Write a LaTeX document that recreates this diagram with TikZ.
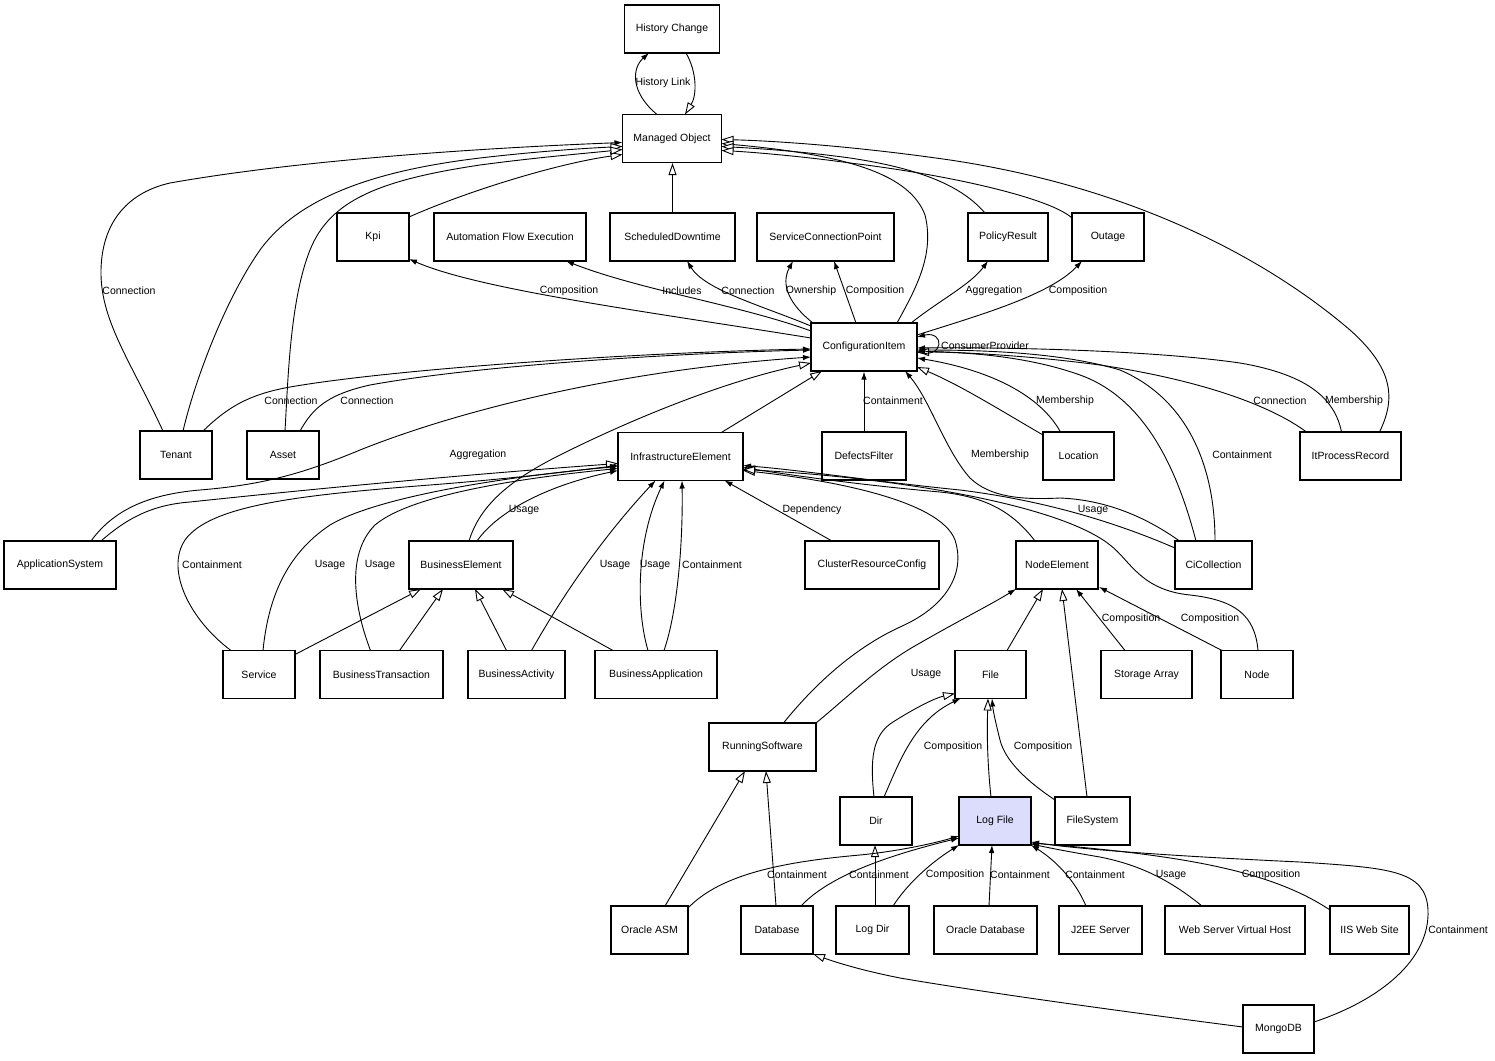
\documentclass[tikz,border=0pt]{standalone}
\usepackage{fontspec}
\setmainfont{Liberation Sans}
\usetikzlibrary{arrows.meta,calc}
\definecolor{lfill}{RGB}{220,220,252}
\begin{document}
\begin{tikzpicture}[x=1pt,y=-1pt,
  box/.style={draw, line width=1.2pt, minimum height=48pt, inner sep=0pt, font=\fontsize{10.5}{12}\selectfont},
  lbl/.style={inner sep=0pt, font=\fontsize{10.5}{12}\selectfont},
  ed/.style={draw, line width=0.9pt},
  fa/.style={ed, -{Latex[length=8pt,width=5.5pt]}},
  ga/.style={ed, -{Triangle[length=12pt,width=8pt,fill=white,line width=0.9pt]}}]
\fill[white] (0,0) rectangle (1495,1060);
\useasboundingbox (0,0) rectangle (1495,1060);
% nodes
\node[box, minimum width=95pt] (hc) at (672,29) {History Change};
\node[box, minimum width=99pt] (mo) at (672,138.5) {Managed Object};
\node[box, minimum width=72pt] (kpi) at (373,237) {Kpi};
\node[box, minimum width=152pt] (afe) at (510,237) {Automation Flow Execution};
\node[box, minimum width=125pt] (sd) at (672.5,237) {ScheduledDowntime};
\node[box, minimum width=137pt] (scp) at (825.5,237) {ServiceConnectionPoint};
\node[box, minimum width=80pt] (pr) at (1008,237) {PolicyResult};
\node[box, minimum width=72pt] (out) at (1108,237) {Outage};
\node[box, minimum width=106pt] (ci) at (864,347) {ConfigurationItem};
\node[box, minimum width=72pt] (tenant) at (176,455) {Tenant};
\node[box, minimum width=72pt] (asset) at (283,455) {Asset};
\node[box, minimum width=125pt] (ie) at (680.5,456.5) {InfrastructureElement};
\node[box, minimum width=84pt] (df) at (864,456) {DefectsFilter};
\node[box, minimum width=71pt] (loc) at (1078.5,456) {Location};
\node[box, minimum width=101pt] (itpr) at (1350.5,456) {ItProcessRecord};
\node[box, minimum width=112pt] (as) at (60,565) {ApplicationSystem};
\node[box, minimum width=104pt] (be) at (461,565) {BusinessElement};
\node[box, minimum width=134pt] (crc) at (872,565) {ClusterResourceConfig};
\node[box, minimum width=82pt] (ne) at (1057,565) {NodeElement};
\node[box, minimum width=77pt] (cic) at (1213.5,565) {CiCollection};
\node[box, minimum width=72pt] (svc) at (259,674.5) {Service};
\node[box, minimum width=123pt] (bt) at (381.5,674.5) {BusinessTransaction};
\node[box, minimum width=97pt] (ba) at (516.5,674.5) {BusinessActivity};
\node[box, minimum width=122pt] (bapp) at (656,674.5) {BusinessApplication};
\node[box, minimum width=71pt] (file) at (990.5,674.5) {File};
\node[box, minimum width=91pt] (sa) at (1146.5,674.5) {Storage Array};
\node[box, minimum width=72pt] (node) at (1257,674.5) {Node};
\node[box, minimum width=107pt] (rs) at (762.5,747) {RunningSoftware};
\node[box, minimum width=72pt] (dir) at (876,821) {Dir};
\node[box, minimum width=72pt, fill=lfill] (lf) at (995,821) {Log File};
\node[box, minimum width=75pt] (fs) at (1092.5,821) {FileSystem};
\node[box, minimum width=77pt] (asm) at (649.5,930) {Oracle ASM};
\node[box, minimum width=72pt] (db) at (777,930) {Database};
\node[box, minimum width=73pt] (ld) at (872.5,930) {Log Dir};
\node[box, minimum width=103pt] (odb) at (985.5,930) {Oracle Database};
\node[box, minimum width=83pt] (j2ee) at (1100.5,930) {J2EE Server};
\node[box, minimum width=140pt] (wsvh) at (1235,930) {Web Server Virtual Host};
\node[box, minimum width=79pt] (iis) at (1369.5,930) {IIS Web Site};
\node[box, minimum width=71pt] (mongo) at (1278.5,1029) {MongoDB};
% edges: top
\path[fa] ($(mo)+(-15,-24)$) .. controls (630,92) and (632,68) .. ($(hc)+(-23,24)$);
\path[ga] ($(hc)+(14,24)$) .. controls (697,72) and (697,95) .. ($(mo)+(13,-24)$);
\path[ga] (sd.north) -- (sd.north |- mo.south);
\path[ga] ($(kpi)+(36,-20)$) .. controls (470,190) and (560,163) .. ($(mo)+(-49.5,16)$);
\path[fa] ($(tenant)+(-13,-24)$) .. controls (130,360) and (100,320) .. (101,270) .. controls (102,220) and (130,192) .. (170,183) .. controls (300,160) and (480,148) .. ($(mo)+(-49.5,4)$);
\path[ga] ($(tenant)+(7,-24)$) .. controls (195,380) and (225,300) .. (260,250) .. controls (300,195) and (380,170) .. (480,158) .. controls (540,151) and (590,148) .. ($(mo)+(-49.5,8)$);
\path[ga] ($(asset)+(2,-24)$) .. controls (288,380) and (290,300) .. (310,250) .. controls (330,200) and (380,180) .. (480,165) .. controls (540,157) and (590,153) .. ($(mo)+(-49.5,11)$);
\path[fa] ($(tenant)+(27,-24)$) .. controls (225,410) and (245,395) .. (290,387) .. controls (400,368) and (650,352) .. ($(ci)+(-53,2)$);
\path[fa] ($(asset)+(17,-24)$) .. controls (312,410) and (325,395) .. (370,385) .. controls (480,365) and (680,353) .. ($(ci)+(-53,3)$);
\path[fa] ($(as)+(31,-24)$) .. controls (110,515) and (140,495) .. (200,490) .. controls (260,485) and (300,475) .. (360,450) .. controls (460,410) and (620,370) .. ($(ci)+(-53,10)$);
\path[ga] ($(as)+(41,-24)$) .. controls (125,520) and (150,505) .. (190,502) .. controls (350,485) and (500,472) .. ($(ie)+(-62.5,7)$);
\path[ga] ($(be)+(8,-24)$) .. controls (480,505) and (510,480) .. (560,455) .. controls (640,415) and (730,380) .. ($(ci)+(-53,16)$);
\path[ga] ($(ie)+(40,-23.5)$) -- ($(ci)+(-42,24)$);
\path[fa] (df.north) -- (ci.south);
\path[ga] ($(loc)+(-35.5,-21)$) .. controls (1000,410) and (960,385) .. ($(ci)+(53,20)$);
\path[fa] ($(loc)+(-18,-24)$) .. controls (1040,395) and (990,370) .. ($(ci)+(53,11)$);
\path[fa] ($(cic)+(-34,-24)$) .. controls (1150,520) and (1110,500) .. (1060,498) .. controls (1020,500) and (990,497) .. (970,478) .. controls (945,450) and (930,400) .. ($(ci)+(41,24)$);
\path[fa] ($(cic)+(1.5,-24)$) .. controls (1215,470) and (1190,400) .. (1120,370) .. controls (1060,352) and (980,350) .. ($(ci)+(53,3)$);
\path[ga] ($(cic)+(-17.5,-24)$) .. controls (1180,480) and (1150,400) .. (1080,375) .. controls (1030,357) and (970,352) .. ($(ci)+(53,5)$);
\path[fa] ($(itpr)+(-44,-24)$) .. controls (1270,405) and (1200,380) .. (1100,365) .. controls (1040,357) and (980,353) .. ($(ci)+(53,4)$);
\path[fa] ($(itpr)+(-9,-24)$) .. controls (1335,400) and (1310,375) .. (1240,363) .. controls (1150,350) and (1000,347) .. ($(ci)+(53,1)$);
\path[ga] ($(itpr)+(29,-24)$) .. controls (1395,400) and (1395,370) .. (1350,330) .. controls (1280,270) and (1150,190) .. (950,160) .. controls (860,147) and (780,141) .. ($(mo)+(49.5,1)$);
\path[ga] ($(ci)+(33,-24)$) .. controls (915,290) and (935,255) .. (925,215) .. controls (910,175) and (850,155) .. ($(mo)+(49.5,5)$);
\path[ga] ($(pr)+(-23,-24)$) .. controls (965,190) and (930,170) .. (850,158) .. controls (800,151) and (750,148) .. ($(mo)+(49.5,8)$);
\path[ga] ($(out)+(-36,-19)$) .. controls (1050,198) and (950,175) .. (850,163) .. controls (800,156) and (750,152) .. ($(mo)+(49.5,12)$);
% CI to top row
\path[fa] ($(ci)+(-53,-9)$) .. controls (650,312) and (480,290) .. ($(kpi)+(36,22)$);
\path[fa] ($(ci)+(-53,-16)$) .. controls (740,305) and (640,290) .. ($(afe)+(56,24)$);
\path[fa] ($(ci)+(-53,-21)$) .. controls (760,305) and (705,290) .. ($(sd)+(14.5,24)$);
\path[fa] ($(ci)+(-51,-24)$) .. controls (790,305) and (780,285) .. ($(scp)+(-32.5,24)$);
\path[fa] ($(ci)+(-8,-24)$) -- ($(scp)+(8.5,24)$);
\path[fa] ($(ci)+(47,-24)$) .. controls (940,300) and (970,285) .. ($(pr)+(-20,24)$);
\path[fa] ($(ci)+(53,-12)$) .. controls (980,315) and (1050,295) .. ($(out)+(-26,24)$);
\path[fa] ($(ci)+(53,5)$) .. controls (945,360) and (945,330) .. ($(ci)+(53,-10)$);
% IE
\path[fa] ($(svc)+(-28,-24)$) .. controls (190,620) and (165,570) .. (185,540) .. controls (210,505) and (300,495) .. (430,485) .. controls (520,478) and (580,470) .. ($(ie)+(-62.5,9)$);
\path[fa] ($(svc)+(4,-24)$) .. controls (268,600) and (285,555) .. (330,525) .. controls (380,495) and (520,475) .. ($(ie)+(-62.5,10)$);
\path[fa] ($(bt)+(-11,-24)$) .. controls (355,610) and (345,555) .. (375,525) .. controls (410,495) and (520,478) .. ($(ie)+(-62.5,12)$);
\path[fa] ($(be)+(16,-24)$) .. controls (495,515) and (540,487) .. ($(ie)+(-62.5,14)$);
\path[fa] ($(ba)+(15,-24)$) .. controls (560,600) and (600,540) .. ($(ie)+(-25,24)$);
\path[fa] ($(bapp)+(-8,-24)$) .. controls (636,610) and (636,540) .. ($(ie)+(-16,24)$);
\path[fa] ($(bapp)+(8,-24)$) .. controls (678,610) and (683,540) .. ($(ie)+(1.5,24)$);
\path[fa] ($(crc)+(-40,-24)$) -- ($(ie)+(44,24)$);
\path[ga] ($(rs)+(21,-24)$) .. controls (810,690) and (850,650) .. (900,627) .. controls (950,605) and (965,570) .. (955,540) .. controls (940,500) and (830,480) .. ($(ie)+(62.5,14)$);
\path[ga] ($(ne)+(-22,-24)$) .. controls (1015,515) and (990,497) .. (940,492) .. controls (860,485) and (790,475) .. ($(ie)+(62.5,11)$);
\path[fa] ($(cic)+(-38.5,-17)$) .. controls (1110,520) and (1040,500) .. (960,490) .. controls (880,482) and (800,470) .. ($(ie)+(62.5,9)$);
\path[ga] ($(node)+(1,-24)$) .. controls (1255,615) and (1235,600) .. (1190,595) .. controls (1140,590) and (1130,560) .. (1110,545) .. controls (1060,505) and (900,478) .. ($(ie)+(62.5,13)$);
% BE
\path[ga] ($(svc)+(36,-20)$) -- ($(be)+(-40,24)$);
\path[ga] ($(bt)+(18,-24)$) -- ($(be)+(-18,24)$);
\path[ga] ($(ba)+(-10,-24)$) -- ($(be)+(14,24)$);
\path[ga] ($(bapp)+(-43,-24)$) -- ($(be)+(41,24)$);
% NE
\path[fa] ($(rs)+(53.5,-24)$) .. controls (850,695) and (880,665) .. (920,643) .. controls (960,620) and (990,605) .. ($(ne)+(-41,24)$);
\path[ga] ($(file)+(16.5,-24)$) -- ($(ne)+(-14,24)$);
\path[ga] ($(fs)+(-5.5,-24)$) -- ($(ne)+(5,24)$);
\path[fa] ($(sa)+(-21.5,-24)$) -- ($(ne)+(19,24)$);
\path[fa] ($(node)+(-35,-24)$) -- ($(ne)+(42,22)$);
% File
\path[ga] ($(dir)+(-2,-24)$) .. controls (870,760) and (872,735) .. (893,722) .. controls (915,708) and (935,698) .. ($(file)+(-35.5,19)$);
\path[fa] ($(dir)+(8,-24)$) .. controls (900,760) and (915,720) .. ($(file)+(-30,24)$);
\path[ga] ($(lf)+(-4,-24)$) .. controls (987,760) and (987,730) .. ($(file)+(-2.5,24)$);
\path[fa] ($(fs)+(-37.5,-21)$) .. controls (1025,780) and (1005,760) .. (1000,740) .. controls (995,720) and (993,710) .. ($(file)+(1.5,24)$);
% RS, Dir
\path[ga] ($(asm)+(15.5,-24)$) -- ($(rs)+(-17.5,24)$);
\path[ga] ($(db)+(-1,-24)$) -- ($(rs)+(3.5,24)$);
\path[ga] ($(ld)+(2.5,-24)$) -- ($(dir)+(-1,24)$);
% Log File
\path[fa] ($(asm)+(38.5,-22)$) .. controls (720,875) and (780,862) .. (860,855) .. controls (900,851) and (935,843) .. ($(lf)+(-36,15)$);
\path[fa] ($(db)+(24,-24)$) .. controls (830,875) and (890,855) .. ($(lf)+(-36,17)$);
\path[fa] ($(ld)+(20.5,-24)$) .. controls (910,880) and (935,860) .. ($(lf)+(-36,24)$);
\path[fa] ($(odb)+(3.5,-24)$) -- ($(lf)+(-3,24)$);
\path[fa] ($(j2ee)+(-14.5,-24)$) .. controls (1075,880) and (1055,860) .. ($(lf)+(36,24)$);
\path[fa] ($(wsvh)+(-33,-24)$) .. controls (1170,880) and (1140,865) .. (1100,857) .. controls (1070,852) and (1050,848) .. ($(lf)+(36,23)$);
\path[fa] ($(iis)+(-39.5,-20)$) .. controls (1270,870) and (1180,855) .. ($(lf)+(36,22)$);
\path[fa] ($(mongo)+(35.5,-7)$) .. controls (1380,1000) and (1430,960) .. (1428,910) .. controls (1426,870) and (1390,868) .. (1300,862) .. controls (1150,855) and (1070,848) .. ($(lf)+(36,21)$);
\path[ga] ($(mongo)+(-35.5,-2)$) .. controls (1150,1015) and (1000,995) .. (900,978) .. controls (860,970) and (835,962) .. ($(db)+(36,24)$);
% labels
\node[lbl] (l1) at (663,83) {History Link};
\node[lbl] (l2) at (129,291) {Connection};
\node[lbl] (l3) at (569,291) {Composition};
\node[lbl] (l4) at (682,291) {Includes};
\node[lbl] (l5) at (748,291) {Connection};
\node[lbl] (l6) at (811,291) {Ownership};
\node[lbl] (l7) at (875,291) {Composition};
\node[lbl] (l8) at (994,291) {Aggregation};
\node[lbl] (l9) at (1078,291) {Composition};
\node[lbl] (l10) at (985,346) {ConsumerProvider};
\node[lbl] (l11) at (291,401) {Connection};
\node[lbl] (l12) at (367,401) {Connection};
\node[lbl] (l13) at (893,401) {Containment};
\node[lbl] (l14) at (1065,401) {Membership};
\node[lbl] (l15) at (1280,401) {Connection};
\node[lbl] (l16) at (1354,401) {Membership};
\node[lbl] (l17) at (478,455) {Aggregation};
\node[lbl] (l18) at (1000,455) {Membership};
\node[lbl] (l19) at (1242,455) {Containment};
\node[lbl] (l20) at (524,510) {Usage};
\node[lbl] (l21) at (812,510) {Dependency};
\node[lbl] (l22) at (1093,510) {Usage};
\node[lbl] (l23) at (212,565) {Containment};
\node[lbl] (l24) at (330,565) {Usage};
\node[lbl] (l25) at (380,565) {Usage};
\node[lbl] (l26) at (615,565) {Usage};
\node[lbl] (l27) at (655,565) {Usage};
\node[lbl] (l28) at (712,565) {Containment};
\node[lbl] (l29) at (1131,619) {Composition};
\node[lbl] (l30) at (1210,619) {Composition};
\node[lbl] (l31) at (926,674) {Usage};
\node[lbl] (l32) at (953,747) {Composition};
\node[lbl] (l33) at (1043,747) {Composition};
\node[lbl] (l34) at (797,875) {Containment};
\node[lbl] (l35) at (879,875) {Containment};
\node[lbl] (l36) at (955,875) {Composition};
\node[lbl] (l37) at (1020,875) {Containment};
\node[lbl] (l38) at (1095,875) {Containment};
\node[lbl] (l39) at (1171,875) {Usage};
\node[lbl] (l40) at (1271,875) {Composition};
\node[lbl] (l41) at (1458,930) {Containment};
\end{tikzpicture}
\end{document}
